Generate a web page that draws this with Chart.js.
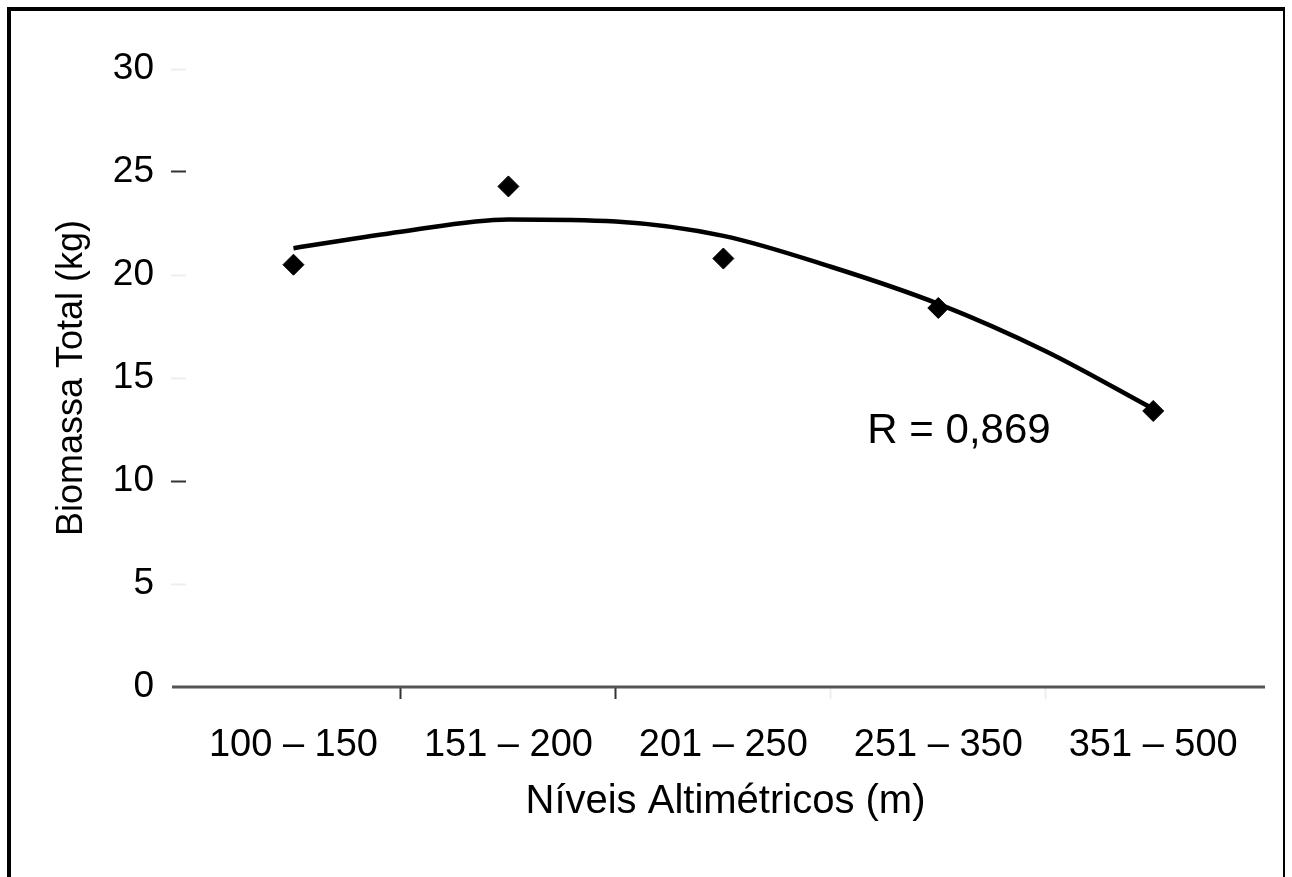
<!DOCTYPE html>
<html>
<head>
<meta charset="utf-8">
<script src="https://cdn.jsdelivr.net/npm/chart.js@4.4.0/dist/chart.umd.min.js"></script>
<style>
  body { margin: 0; background: #fff; }
  #wrap { position: relative; width: 1292px; height: 877px; }
  #frame { position: absolute; left: 7px; top: 7px; width: 1272px; height: 900px;
           border-left: 4px solid #000; border-top: 4px solid #000; border-right: 2px solid #000;
           pointer-events: none; }
</style>
</head>
<body>
<div id="wrap">
  <canvas id="myChart" width="1292" height="877"></canvas>
  <div id="frame"></div>
</div>
<script>
var categories = ['100 – 150', '151 – 200', '201 – 250', '251 – 350', '351 – 500'];
var categoryPos = [1, 2, 3, 4, 5];
var biomass = [20.5, 24.3, 20.8, 18.4, 13.4];
// trend curve
var trendX = [1, 1.5, 2, 2.5, 3, 3.5, 4, 4.5, 5];
var trendY = [21.3, 22.1, 22.7, 22.6, 21.9, 20.4, 18.6, 16.3, 13.5];
var xTicks = [1, 1.5, 2, 2.5, 3, 3.5, 4, 4.5, 5];
var yTicks = [0, 5, 10, 15, 20, 25, 30];
var rText = 'R = 0,869';

var font = 'Liberation Sans, Arial, sans-serif';

// baseline drawn a bit past the y tick marks, plus the R label
var extras = {
    id: 'extras',
    afterDraw: function(chart) {
        var c = chart.ctx, xs = chart.scales.x, ys = chart.scales.y;
        var y0 = ys.getPixelForValue(0);
        c.save();
        c.strokeStyle = '#555';
        c.lineWidth = 3;
        c.beginPath();
        c.moveTo(chart.chartArea.left - 14, y0);
        c.lineTo(chart.chartArea.right, y0);
        c.stroke();
        c.fillStyle = '#000';
        c.font = '42px ' + font;
        c.textAlign = 'left';
        c.textBaseline = 'middle';
        c.fillText(rText, xs.getPixelForValue(3.67), ys.getPixelForValue(12.4));
        c.restore();
    }
};

var ctx = document.getElementById('myChart').getContext('2d');
var myChart = new Chart(ctx, {
    type: 'scatter',
    data: {
        datasets: [{
            label: 'Biomassa',
            data: categoryPos.map(function(x, i) { return {x: x, y: biomass[i]}; }),
            pointStyle: 'rectRot',
            pointRadius: 10.5,
            backgroundColor: '#000',
            borderColor: '#000',
            showLine: false
        }, {
            label: 'Tendência',
            data: trendX.map(function(x, i) { return {x: x, y: trendY[i]}; }),
            showLine: true,
            borderColor: '#000',
            borderWidth: 4.5,
            pointRadius: 0,
            cubicInterpolationMode: 'monotone'
        }]
    },
    options: {
        responsive: false,
        animation: false,
        devicePixelRatio: 1,
        layout: { padding: { left: 0, right: 27, top: 69, bottom: 0 } },
        plugins: {
            legend: { display: false },
            tooltip: { enabled: false }
        },
        scales: {
            x: {
                type: 'linear',
                min: 0.5,
                max: 5.52,
                afterBuildTicks: function(s) {
                    s.ticks = xTicks.map(function(v) { return {value: v}; });
                },
                afterFit: function(s) { s.height = 190; },
                border: { display: false },
                grid: {
                    drawOnChartArea: false,
                    tickLength: 12,
                    tickWidth: 2,
                    tickColor: function(c) {
                        var v = c.tick ? c.tick.value : 0;
                        if (v === 1.5 || v === 2.5) return '#333';
                        if (v === 3.5 || v === 4.5) return '#eeeeee';
                        return 'rgba(0,0,0,0)';
                    }
                },
                ticks: {
                    autoSkip: false,
                    maxRotation: 0,
                    padding: 24,
                    color: '#000',
                    font: { family: font, size: 38 },
                    callback: function(v) {
                        return Number.isInteger(v) ? categories[v - 1] : '';
                    }
                },
                title: {
                    display: true,
                    text: 'Níveis Altimétricos (m)',
                    color: '#000',
                    font: { family: font, size: 40 },
                    padding: { top: 0, bottom: 51 }
                }
            },
            y: {
                min: 0,
                max: 30,
                afterBuildTicks: function(s) {
                    s.ticks = yTicks.map(function(v) { return {value: v}; });
                },
                afterFit: function(s) { s.width = 186; },
                border: { display: false },
                grid: {
                    drawOnChartArea: false,
                    tickLength: 15,
                    tickWidth: 2,
                    tickColor: function(c) {
                        var v = c.tick ? c.tick.value : 0;
                        if (v === 25 || v === 10) return '#333';
                        if (v === 0) return 'rgba(0,0,0,0)';
                        return '#eeeeee';
                    }
                },
                ticks: {
                    padding: 17,
                    color: '#000',
                    font: { family: font, size: 37 }
                },
                title: {
                    display: true,
                    text: 'Biomassa Total (kg)',
                    color: '#000',
                    font: { family: font, size: 36 },
                    padding: { top: 50, bottom: 0 }
                }
            }
        }
    },
    plugins: [extras]
});
</script>
</body>
</html>
